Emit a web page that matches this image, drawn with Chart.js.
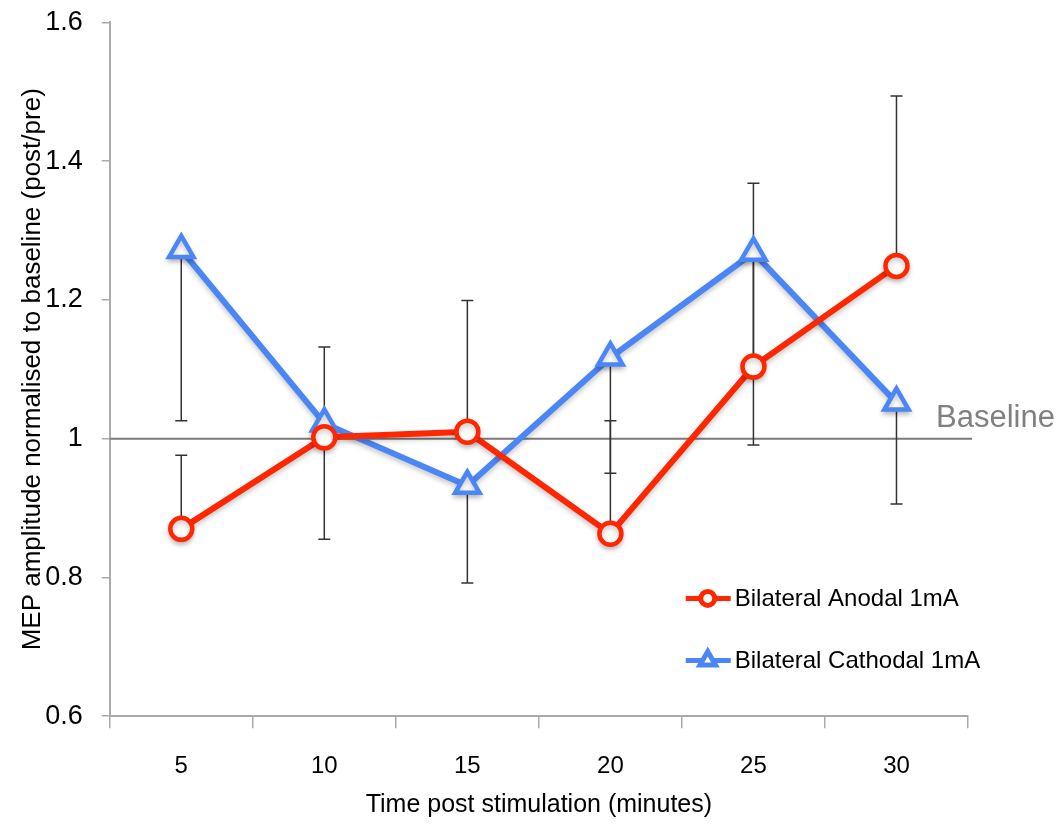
<!DOCTYPE html>
<html>
<head>
<meta charset="utf-8">
<script src="https://cdn.jsdelivr.net/npm/chart.js@4.4.1/dist/chart.umd.min.js"></script>
<style>
  html, body { margin: 0; padding: 0; background: #fff; }
  #wrap { width: 1064px; height: 830px; position: relative; }
</style>
</head>
<body>
<div id="wrap"><canvas id="mepChart"></canvas></div>
<script>
const timeLabels = ['5', '10', '15', '20', '25', '30'];
const anodalValues = [0.870, 1.002, 1.010, 0.863, 1.104, 1.249];
const anodalErrUp = [0.106, 0.130, 0.189, 0.163, 0.264, 0.245];
const cathodalValues = [1.272, 1.022, 0.932, 1.117, 1.268, 1.052];
const cathodalErrDown = [0.246, 0.167, 0.140, 0.167, 0.277, 0.146];
const yTickLabels = ['0.6', '0.8', '1', '1.2', '1.4', '1.6'];
const baselineValue = 1;

const FONT = "'Liberation Sans', Arial, sans-serif";
const RED = 'rgb(255, 38, 0)';
const BLUE = 'rgb(74, 134, 245)';

// error bars + baseline under the lines, soft shadow on series, legend on top
const extrasPlugin = {
  id: 'extras',
  beforeDatasetsDraw(chart) {
    const ctx = chart.ctx;
    const x = chart.scales.x;
    const y = chart.scales.y;
    const area = chart.chartArea;

    // baseline
    const yb = y.getPixelForValue(baselineValue);
    ctx.save();
    ctx.strokeStyle = '#7a7a7a';
    ctx.lineWidth = 2;
    ctx.beginPath();
    ctx.moveTo(area.left, yb);
    ctx.lineTo(area.right + 4, yb);
    ctx.stroke();
    ctx.fillStyle = '#808080';
    ctx.font = '31px ' + FONT;
    ctx.textBaseline = 'bottom';
    ctx.textAlign = 'left';
    ctx.fillText('Baseline', area.right - 32, yb - 5);

    // error bars
    ctx.strokeStyle = '#333';
    ctx.lineWidth = 1.5;
    const cap = 6;
    const bar = (i, from, to) => {
      const px = x.getPixelForValue(i);
      const p1 = y.getPixelForValue(from);
      const p2 = y.getPixelForValue(to);
      ctx.beginPath();
      ctx.moveTo(px, p1);
      ctx.lineTo(px, p2);
      ctx.moveTo(px - cap, p2);
      ctx.lineTo(px + cap, p2);
      ctx.stroke();
    };
    anodalValues.forEach((v, i) => bar(i, v, v + anodalErrUp[i]));
    cathodalValues.forEach((v, i) => bar(i, v, v - cathodalErrDown[i]));
    ctx.restore();
  },
  beforeDatasetDraw(chart) {
    const ctx = chart.ctx;
    ctx.save();
    ctx.shadowColor = 'rgba(0,0,0,0.22)';
    ctx.shadowBlur = 5;
    ctx.shadowOffsetY = 3;
  },
  afterDatasetDraw(chart) {
    chart.ctx.restore();
  },
  afterDraw(chart) {
    const ctx = chart.ctx;
    const area = chart.chartArea;
    const x0 = area.left + 576;
    const rows = [area.top + 576, area.top + 638];
    ctx.save();
    chart.data.datasets.forEach((ds, i) => {
      const yy = rows[i];
      ctx.strokeStyle = ds.borderColor;
      ctx.lineWidth = 5;
      ctx.beginPath();
      ctx.moveTo(x0, yy);
      ctx.lineTo(x0 + 45, yy);
      ctx.stroke();
      ctx.fillStyle = '#fff';
      ctx.strokeStyle = ds.borderColor;
      Chart.helpers.drawPoint(ctx, {
        pointStyle: ds.pointStyle,
        radius: ds.pointStyle === 'triangle' ? 9 : 7,
        borderWidth: 3,
        rotation: 0
      }, x0 + 22, yy);
      ctx.fillStyle = '#000';
      ctx.font = '24px ' + FONT;
      ctx.textBaseline = 'middle';
      ctx.textAlign = 'left';
      ctx.fillText(ds.label, x0 + 49, yy + 1);
    });
    ctx.restore();
  }
};

new Chart(document.getElementById('mepChart'), {
  type: 'line',
  data: {
    labels: timeLabels,
    datasets: [
      {
        label: 'Bilateral Anodal 1mA',
        data: anodalValues,
        borderColor: RED,
        backgroundColor: '#fff',
        borderWidth: 6,
        pointStyle: 'circle',
        pointRadius: 11,
        pointBorderWidth: 4.5,
        pointBackgroundColor: '#fff',
        pointBorderColor: RED,
        tension: 0
      },
      {
        label: 'Bilateral Cathodal 1mA',
        data: cathodalValues,
        borderColor: BLUE,
        backgroundColor: '#fff',
        borderWidth: 6,
        pointStyle: 'triangle',
        pointRadius: 14,
        pointBorderWidth: 4.5,
        pointBackgroundColor: '#fff',
        pointBorderColor: BLUE,
        tension: 0
      }
    ]
  },
  options: {
    responsive: true,
    maintainAspectRatio: false,
    animation: false,
    layout: { padding: { top: 6, right: 96, bottom: 0, left: 0 } },
    plugins: {
      legend: { display: false },
      tooltip: { enabled: false }
    },
    scales: {
      x: {
        type: 'category',
        offset: true,
        grid: { drawOnChartArea: false, offset: true, tickLength: 12, color: '#aaa', lineWidth: 1.5 },
        border: { color: '#aaa', width: 2 },
        ticks: { color: '#000', font: { family: FONT, size: 24 }, padding: 24 },
        title: {
          display: true,
          text: 'Time post stimulation (minutes)',
          color: '#000',
          font: { family: FONT, size: 25 },
          padding: { top: -15, bottom: 10 }
        }
      },
      y: {
        min: 0.6,
        max: 1.6,
        grid: { drawOnChartArea: false, tickLength: 8, color: '#aaa', lineWidth: 1.5 },
        border: { color: '#aaa', width: 2 },
        ticks: {
          stepSize: 0.2,
          color: '#000',
          font: { family: FONT, size: 27, lineHeight: 0.25 },
          padding: 19,
          callback: (v) => yTickLabels[Math.round((v - 0.6) / 0.2)]
        },
        title: {
          display: true,
          text: 'MEP amplitude normalised to baseline (post/pre)',
          color: '#000',
          font: { family: FONT, size: 26 },
          padding: { top: 17, bottom: -22 }
        }
      }
    }
  },
  plugins: [extrasPlugin]
});
</script>
</body>
</html>
